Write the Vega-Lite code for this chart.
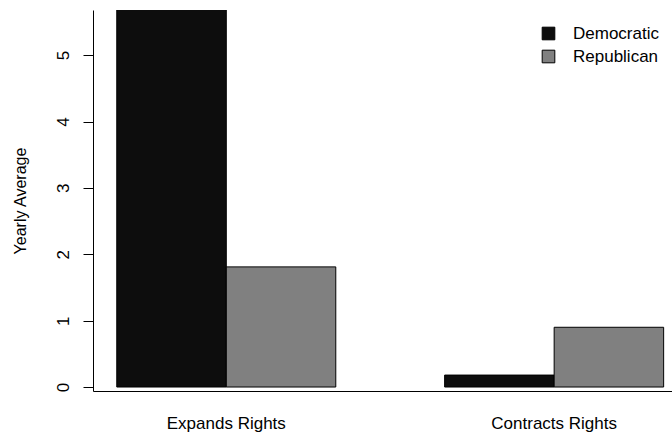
{
  "$schema": "https://vega.github.io/schema/vega-lite/v6.json",
  "width": 579,
  "height": 381,
  "autosize": {"type": "none"},
  "padding": {"left": 93, "top": 10, "right": 0, "bottom": 42},
  "background": "white",
  "config": {
    "view": {"stroke": null},
    "font": "Liberation Sans",
    "axis": {"grid": false, "domainColor": "#000000", "tickColor": "#000000", "labelColor": "#000000", "titleColor": "#000000", "labelFontSize": 17, "titleFontSize": 16, "titleFontWeight": "normal", "domainWidth": 1, "tickWidth": 1}
  },
  "data": {
    "values": [
      {"direction": "Expands Rights", "party": "Democratic", "value": 5.9},
      {"direction": "Expands Rights", "party": "Republican", "value": 1.81},
      {"direction": "Contracts Rights", "party": "Democratic", "value": 0.18},
      {"direction": "Contracts Rights", "party": "Republican", "value": 0.9}
    ]
  },
  "mark": {"type": "bar", "clip": true, "stroke": "#000000", "strokeWidth": 1},
  "encoding": {
    "x": {
      "field": "direction",
      "type": "nominal",
      "sort": ["Expands Rights", "Contracts Rights"],
      "scale": {"paddingInner": 0.332, "paddingOuter": 0.049, "align": 0.74},
      "axis": {"title": null, "labelAngle": 0, "ticks": false, "tickSize": 0, "labelPadding": 24, "labelBaseline": "top"}
    },
    "xOffset": {
      "field": "party",
      "type": "nominal",
      "sort": ["Democratic", "Republican"],
      "scale": {"paddingInner": 0, "paddingOuter": 0}
    },
    "y": {
      "field": "value",
      "type": "quantitative",
      "scale": {"domain": [-0.06, 5.68], "nice": false, "zero": false},
      "axis": {"title": "Yearly Average", "values": [0, 1, 2, 3, 4, 5], "tickSize": 10, "labelAngle": -90, "labelAlign": "center", "labelBaseline": "bottom", "labelPadding": 11, "titlePadding": 26, "format": "d"}
    },
    "color": {
      "field": "party",
      "type": "nominal",
      "sort": ["Democratic", "Republican"],
      "scale": {"domain": ["Democratic", "Republican"], "range": ["#0d0d0d", "#808080"]},
      "legend": {
        "title": null,
        "orient": "none",
        "legendX": 447,
        "legendY": 15,
        "symbolType": "square",
        "symbolSize": 160,
        "symbolStrokeColor": "#000000",
        "symbolStrokeWidth": 1,
        "symbolOpacity": 1,
        "labelFontSize": 17,
        "labelColor": "#000000",
        "labelOffset": 16,
        "rowPadding": 5
      }
    }
  }
}
